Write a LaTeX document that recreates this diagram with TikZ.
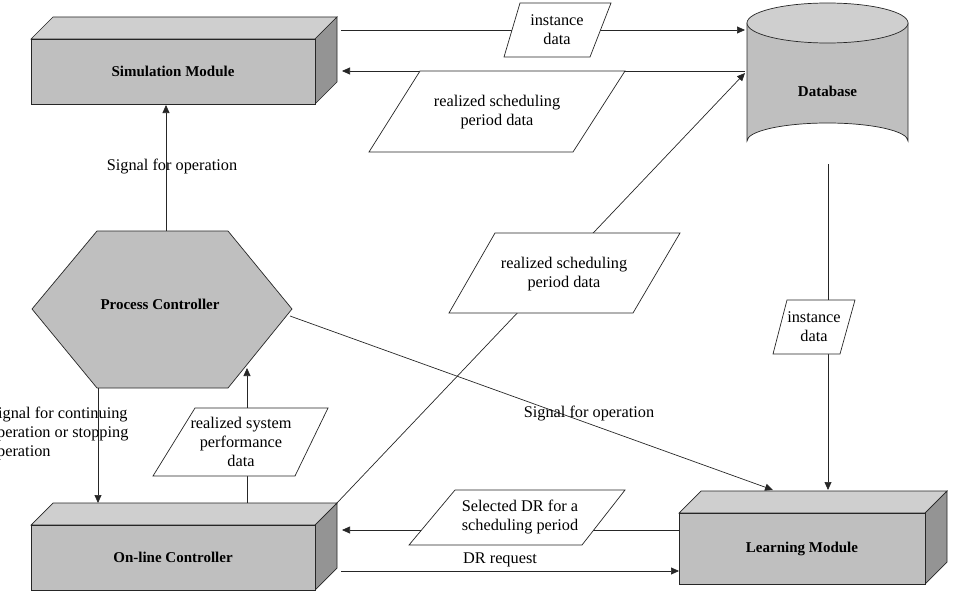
\documentclass[tikz,border=0pt]{standalone}
\usepackage{fontspec}
\setmainfont{Liberation Serif}
\usetikzlibrary{arrows.meta}
\begin{document}
\begin{tikzpicture}[x=1pt,y=-1pt,
  line/.style={draw=black!85,line width=0.7pt},
  arr/.style={line,-{Triangle[length=8pt,width=7pt]}},
  front/.style={fill=black!25,line},
  topf/.style={fill=black!19,line},
  side/.style={fill=black!42,line},
  para/.style={fill=white,line},
  txt/.style={font=\fontsize{16.3}{19}\selectfont,align=center},
  btxt/.style={font=\fontsize{15}{18}\selectfont\bfseries}]
\useasboundingbox (0,0) rectangle (953,594);
\clip (0,0) rectangle (953,594);
% cuboids
\newcommand{\cuboid}[5]{% x1,y1,x2,y2,name
  \filldraw[topf] (#1,#2) -- ++(22,-22) -- (#3+22,#2-22) -- (#3,#2) -- cycle;
  \filldraw[side] (#3,#2) -- (#3+22,#2-22) -- (#3+22,#4-22) -- (#3,#4) -- cycle;
  \filldraw[front] (#1,#2) rectangle (#3,#4);
  \coordinate (#5) at ({(#1+#3)/2},{(#2+#4)/2});}
\cuboid{31}{39}{315}{104}{sim}
\cuboid{31}{525}{315}{590}{onl}
\cuboid{679}{513}{925}{584}{lrn}
\node[btxt] (simT) at (sim) {Simulation Module};
\node[btxt] (onlT) at (onl) {On-line Controller};
\node[btxt] (lrnT) at (lrn) {Learning Module};
% database
\filldraw[front] (747,23) -- (747,141) arc[start angle=180,end angle=360,x radius=80.5,y radius=18] -- (908,23) -- cycle;
\filldraw[topf] (827.5,23) ellipse[x radius=80.5,y radius=20];
\node[btxt] (db) at (827.5,91) {Database};
% hexagon
\filldraw[front] (32,309) -- (97,231) -- (228,231) -- (292,309) -- (228,388) -- (97,388) -- cycle;
\node[btxt] (pc) at (160,304) {Process Controller};
% coordinates
\coordinate (simR1) at (341,30); \coordinate (dbL1) at (745,30);
\coordinate (dbL2) at (745,71); \coordinate (simR2) at (342,71);
\coordinate (onlC) at (336,504); \coordinate (dbL3) at (745,73);
\coordinate (dbB) at (828,164); \coordinate (lrnT1) at (828,490);
\coordinate (lrnL1) at (679,530); \coordinate (onlR1) at (342,530);
\coordinate (onlR2) at (341,571); \coordinate (lrnL2) at (679,571);
\coordinate (hexB) at (98,388); \coordinate (onlT1) at (98,503);
\coordinate (onlT2) at (247,503); \coordinate (hexE) at (247,368);
\coordinate (hexT) at (166,231); \coordinate (simB) at (166,105);
\coordinate (hexR) at (290,316); \coordinate (lrnT2) at (773,490);
% connectors
\draw[arr] (simR1) -- (dbL1);
\draw[arr] (dbL2) -- (simR2);
\draw[arr] (onlC) -- (dbL3);
\draw[arr] (dbB) -- (lrnT1);
\draw[arr] (lrnL1) -- (onlR1);
\draw[arr] (onlR2) -- (lrnL2);
\draw[arr] (hexB) -- (onlT1);
\draw[arr] (onlT2) -- (hexE);
\draw[arr] (hexT) -- (simB);
\draw[arr] (hexR) -- (lrnT2);
% parallelograms
\filldraw[para] (520,3) -- (611,3) -- (590,57) -- (504,57) -- cycle;
\node[txt] (p1) at (557,30) {instance\\data};
\filldraw[para] (420,71) -- (625,71) -- (573,152) -- (369,152) -- cycle;
\node[txt] (p2) at (497,112) {realized scheduling\\period data};
\filldraw[para] (495,233) -- (680,233) -- (633,313) -- (449,313) -- cycle;
\node[txt] (p3) at (564,274) {realized scheduling\\period data};
\filldraw[para] (787,300) -- (855,300) -- (840,354) -- (773,354) -- cycle;
\node[txt] (p4) at (814,327) {instance\\data};
\filldraw[para] (195,408) -- (328,408) -- (295,476) -- (153,476) -- cycle;
\node[txt] (p5) at (241,442) {realized system\\performance\\data};
\filldraw[para] (455,490) -- (625,490) -- (582,545) -- (409,545) -- cycle;
\node[txt] (p6) at (520,517) {Selected DR for a\\scheduling period};
% labels
\node[txt] (l1) at (172,167) {Signal for operation};
\node[txt] (l2) at (589,414) {Signal for operation};
\node[txt] (l3) at (500,560) {DR request};
\node[txt,align=left,anchor=north east] (l4) at (132,403) {Signal for continuing\\operation or stopping\\operation};
\end{tikzpicture}
\end{document}
